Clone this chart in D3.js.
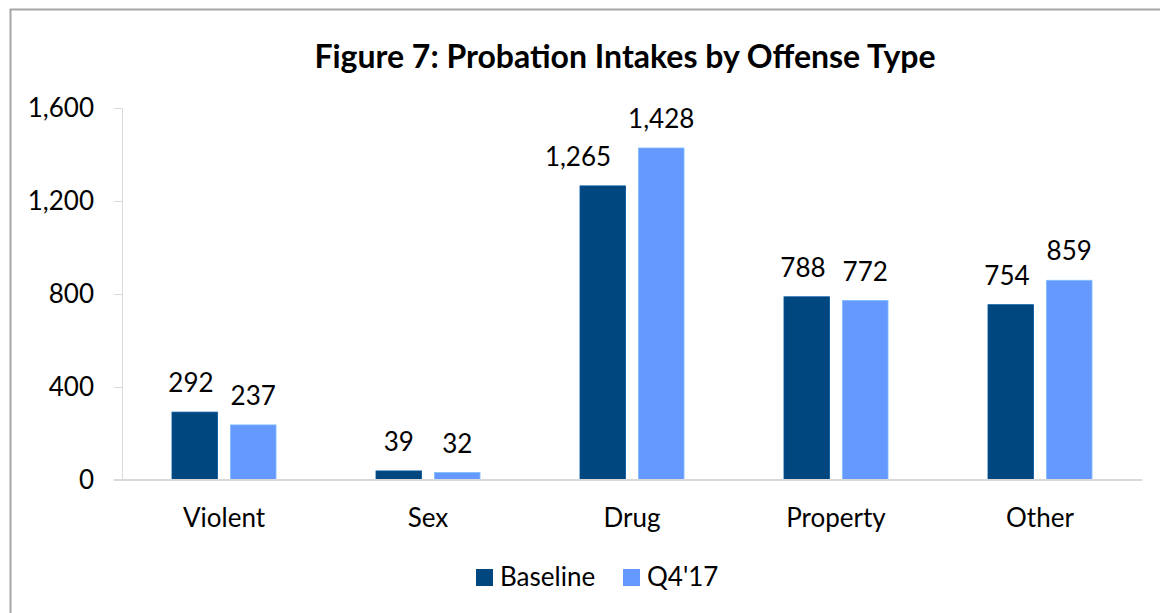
<!DOCTYPE html>
<html>
<head>
<meta charset="utf-8">
<script src="https://cdn.jsdelivr.net/npm/d3@7"></script>
<style>
  body { margin: 0; background: #fff; }
  svg text { font-family: Lato, "Open Sans", sans-serif; fill: #000; }
</style>
</head>
<body>
<div id="chart"></div>
<script>
// chart values
const categories = ["Violent", "Sex", "Drug", "Property", "Other"];
const seriesNames = ["Baseline", "Q4'17"];
const baseline = [292, 39, 1265, 788, 754];
const q4_17 = [237, 32, 1428, 772, 859];
const yTicks = [0, 400, 800, 1200, 1600];
const colors = ["#00467f", "#6699ff"];

const width = 1160, height = 613;
const margin = {top: 108, left: 122, right: 18, bottom: 133};

let svg = d3.select("#chart").append("svg")
    .attr("width", width)
    .attr("height", height);

// outer frame
svg.append("rect")
    .attr("x", 10.5).attr("y", 9.5)
    .attr("width", width + 20).attr("height", height + 20)
    .attr("fill", "none")
    .attr("stroke", "#a6a6a6")
    .attr("stroke-width", 2);

let x0 = d3.scaleBand()
    .domain(categories)
    .range([margin.left, width - margin.right])
    .paddingInner(0.49)
    .paddingOuter(0.245);

let x1 = d3.scaleBand()
    .domain(seriesNames)
    .range([0, x0.bandwidth()])
    .paddingInner(0.22)
    .paddingOuter(0);

let y = d3.scaleLinear()
    .domain([0, 1600])
    .range([height - margin.bottom, margin.top]);

// y axis
let yAxis = svg.append("g")
    .attr("transform", "translate(" + margin.left + ",0)")
    .call(d3.axisLeft(y).tickValues(yTicks).tickSize(8).tickPadding(20).tickFormat(d3.format(",")));
yAxis.select(".domain").attr("stroke", "#d9d9d9");
yAxis.selectAll(".tick line").attr("stroke", "#d9d9d9");
yAxis.selectAll(".tick text").style("font-size", "26px");

// bars
let rows = categories.map(function(c, i) {
    return {cat: c, vals: [baseline[i], q4_17[i]]};
});

let groups = svg.selectAll(".grp")
    .data(rows)
    .enter().append("g")
    .attr("class", "grp")
    .attr("transform", function(d) { return "translate(" + x0(d.cat) + ",0)"; });

groups.selectAll("rect")
    .data(function(d) { return d.vals.map(function(v, j) { return {s: seriesNames[j], v: v, j: j}; }); })
    .enter().append("rect")
    .attr("x", function(d) { return x1(d.s); })
    .attr("y", function(d) { return y(d.v); })
    .attr("width", x1.bandwidth())
    .attr("height", function(d) { return y(0) - y(d.v); })
    .attr("fill", function(d) { return colors[d.j]; })
    .attr("stroke", function(d) { return d3.color(colors[d.j]).brighter(0.6); })
    .attr("stroke-width", 0.8);

groups.each(function() {
    let g = d3.select(this);
    let lbls = g.selectAll(".lbl")
        .data(function(d) { return d.vals.map(function(v, j) { return {s: seriesNames[j], v: v}; }); })
        .enter().append("text")
        .attr("class", "lbl")
        .attr("x", function(d) { return x1(d.s) + x1.bandwidth() / 2; })
        .attr("y", function(d) { return y(d.v) - 20; })
        .attr("text-anchor", "middle")
        .style("font-size", "26px")
        .text(function(d) { return d3.format(",")(d.v); });
    // push the left label aside when it would crowd the taller right one
    let nodes = lbls.nodes();
    let a = nodes[0].getBBox(), b = nodes[1].getBBox();
    let vgap = Math.max(a.y - (b.y + b.height), b.y - (a.y + a.height));
    if (vgap < 25 && a.x + a.width > b.x - 17) {
        let shift = a.x + a.width - (b.x - 17);
        d3.select(nodes[0]).attr("x", +d3.select(nodes[0]).attr("x") - shift);
    }
});

// x axis baseline
svg.append("line")
    .attr("x1", margin.left - 8).attr("x2", width - margin.right)
    .attr("y1", y(0)).attr("y2", y(0))
    .attr("stroke", "#d9d9d9")
    .attr("stroke-width", 2);

svg.selectAll(".cat")
    .data(categories)
    .enter().append("text")
    .attr("class", "cat")
    .attr("x", function(d) { return x0(d) + x0.bandwidth() / 2; })
    .attr("y", 527)
    .attr("text-anchor", "middle")
    .style("font-size", "26px")
    .text(function(d) { return d; });

// title
svg.append("text")
    .attr("x", 625)
    .attr("y", 68)
    .attr("text-anchor", "middle")
    .style("font-size", "32px")
    .style("font-weight", "bold")
    .text("Figure 7: Probation Intakes by Offense Type");

// legend
let legendX = [476, 623];
let legend = svg.selectAll(".leg")
    .data(seriesNames)
    .enter().append("g")
    .attr("class", "leg")
    .attr("transform", function(d, i) { return "translate(" + legendX[i] + ",569)"; });
legend.append("rect")
    .attr("width", 17).attr("height", 17)
    .attr("fill", function(d, i) { return colors[i]; });
legend.append("text")
    .attr("x", 24).attr("y", 17)
    .style("font-size", "26px")
    .text(function(d) { return d; });
</script>
</body>
</html>
